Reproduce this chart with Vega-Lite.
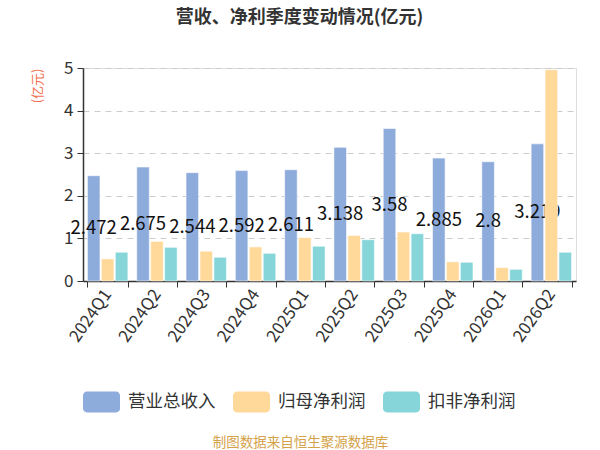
{
  "$schema": "https://vega.github.io/schema/vega-lite/v6.json",
  "autosize": "none",
  "width": 493,
  "height": 213,
  "padding": {"left": 83, "top": 68, "right": 24, "bottom": 169},
  "background": "white",
  "title": {
    "text": "营收、净利季度变动情况(亿元)",
    "fontSize": 18,
    "fontWeight": "bold",
    "color": "#333333",
    "font": "Noto Sans CJK SC",
    "anchor": "middle",
    "dx": -30,
    "offset": 32
  },
  "data": {
    "values": [
      {"quarter": "2024Q1", "series": "营业总收入", "value": 2.472},
      {"quarter": "2024Q1", "series": "归母净利润", "value": 0.52},
      {"quarter": "2024Q1", "series": "扣非净利润", "value": 0.675},
      {"quarter": "2024Q2", "series": "营业总收入", "value": 2.675},
      {"quarter": "2024Q2", "series": "归母净利润", "value": 0.93},
      {"quarter": "2024Q2", "series": "扣非净利润", "value": 0.79},
      {"quarter": "2024Q3", "series": "营业总收入", "value": 2.544},
      {"quarter": "2024Q3", "series": "归母净利润", "value": 0.70},
      {"quarter": "2024Q3", "series": "扣非净利润", "value": 0.557},
      {"quarter": "2024Q4", "series": "营业总收入", "value": 2.592},
      {"quarter": "2024Q4", "series": "归母净利润", "value": 0.80},
      {"quarter": "2024Q4", "series": "扣非净利润", "value": 0.65},
      {"quarter": "2025Q1", "series": "营业总收入", "value": 2.611},
      {"quarter": "2025Q1", "series": "归母净利润", "value": 1.02},
      {"quarter": "2025Q1", "series": "扣非净利润", "value": 0.816},
      {"quarter": "2025Q2", "series": "营业总收入", "value": 3.138},
      {"quarter": "2025Q2", "series": "归母净利润", "value": 1.07},
      {"quarter": "2025Q2", "series": "扣非净利润", "value": 0.97},
      {"quarter": "2025Q3", "series": "营业总收入", "value": 3.58},
      {"quarter": "2025Q3", "series": "归母净利润", "value": 1.15},
      {"quarter": "2025Q3", "series": "扣非净利润", "value": 1.11},
      {"quarter": "2025Q4", "series": "营业总收入", "value": 2.885},
      {"quarter": "2025Q4", "series": "归母净利润", "value": 0.45},
      {"quarter": "2025Q4", "series": "扣非净利润", "value": 0.44},
      {"quarter": "2026Q1", "series": "营业总收入", "value": 2.8},
      {"quarter": "2026Q1", "series": "归母净利润", "value": 0.315},
      {"quarter": "2026Q1", "series": "扣非净利润", "value": 0.275},
      {"quarter": "2026Q2", "series": "营业总收入", "value": 3.219},
      {"quarter": "2026Q2", "series": "归母净利润", "value": 4.96},
      {"quarter": "2026Q2", "series": "扣非净利润", "value": 0.675}
    ]
  },
  "encoding": {
    "x": {
      "field": "quarter",
      "type": "nominal",
      "sort": ["2024Q1", "2024Q2", "2024Q3", "2024Q4", "2025Q1", "2025Q2", "2025Q3", "2025Q4", "2026Q1", "2026Q2"],
      "scale": {"paddingInner": 0.18, "paddingOuter": 0.09},
      "axis": {
        "tickBand": "extent",
        "ticks": true,
        "tickSize": 6,
        "tickColor": "#333333",
        "domainColor": "#333333",
        "domainWidth": 1.5,
        "labelAngle": -55,
        "labelAlign": "right",
        "labelBaseline": "middle",
        "labelFontSize": 17,
        "labelColor": "#333333",
        "labelFont": "Noto Sans CJK SC",
        "labelPadding": 4,
        "grid": false,
        "title": "制图数据来自恒生聚源数据库",
        "titleFont": "Noto Sans CJK SC",
        "titleFontSize": 13.5,
        "titleFontWeight": "normal",
        "titleColor": "#D4A24A",
        "titleX": 217,
        "titleY": 161,
        "titleAlign": "center",
        "titleBaseline": "middle"
      }
    },
    "xOffset": {
      "field": "series",
      "type": "nominal",
      "scale": {"domain": ["营业总收入", "归母净利润", "扣非净利润"], "paddingInner": 0.1}
    },
    "y": {
      "field": "value",
      "type": "quantitative",
      "title": "(亿元)",
      "scale": {"domain": [0, 5], "nice": false},
      "axis": {
        "values": [0, 1, 2, 3, 4, 5],
        "grid": true,
        "gridDash": [6, 5],
        "gridColor": "#cccccc",
        "domain": true,
        "domainColor": "#333333",
        "domainWidth": 1.5,
        "ticks": true,
        "tickSize": 6,
        "tickColor": "#333333",
        "labelFontSize": 17,
        "labelColor": "#333333",
        "labelFont": "Noto Sans CJK SC",
        "labelPadding": 4,
        "titleFont": "Noto Sans CJK SC",
        "titleFontSize": 13,
        "titleFontWeight": "normal",
        "titleColor": "#F2704F",
        "titleAngle": -90,
        "titleX": -46,
        "titleY": 0,
        "titleAlign": "right",
        "titleBaseline": "middle"
      }
    },
    "color": {
      "field": "series",
      "type": "nominal",
      "scale": {
        "domain": ["营业总收入", "归母净利润", "扣非净利润"],
        "range": ["#8DABDB", "#FFD999", "#86D5D9"]
      },
      "legend": {
        "title": null,
        "orient": "none",
        "legendX": 0,
        "legendY": 315,
        "direction": "horizontal",
        "padding": 0,
        "symbolType": "M-0.78,-0.568 L0.78,-0.568 A0.216,0.216 0 0 1 1,-0.352 L1,0.352 A0.216,0.216 0 0 1 0.78,0.568 L-0.78,0.568 A0.216,0.216 0 0 1 -1,0.352 L-1,-0.352 A0.216,0.216 0 0 1 -0.78,-0.568 Z",
        "symbolSize": 1369,
        "symbolStrokeWidth": 0,
        "symbolOpacity": 1,
        "labelFontSize": 17.5,
        "labelFont": "Noto Sans CJK SC",
        "labelColor": "#333333",
        "labelOffset": 8,
        "columnPadding": 16
      }
    }
  },
  "layer": [
    {
      "transform": [{"filter": "datum.series === '营业总收入'"}],
      "mark": {"type": "bar", "stroke": "#ffffff", "strokeWidth": 0.8, "strokeOpacity": 0.7}
    },
    {
      "transform": [
        {"filter": "datum.series === '营业总收入'"},
        {"calculate": "datum.value / 2", "as": "mid"}
      ],
      "mark": {"type": "text", "fontSize": 18.5, "font": "Noto Sans CJK SC", "color": "#111111", "align": "center", "baseline": "middle"},
      "encoding": {
        "y": {"field": "mid", "type": "quantitative", "title": "(亿元)"},
        "text": {"field": "value", "type": "nominal"},
        "color": {"value": "#111111"}
      }
    },
    {
      "transform": [{"filter": "datum.series !== '营业总收入'"}],
      "mark": {"type": "bar", "stroke": "#ffffff", "strokeWidth": 0.8, "strokeOpacity": 0.7}
    }
  ]
}
